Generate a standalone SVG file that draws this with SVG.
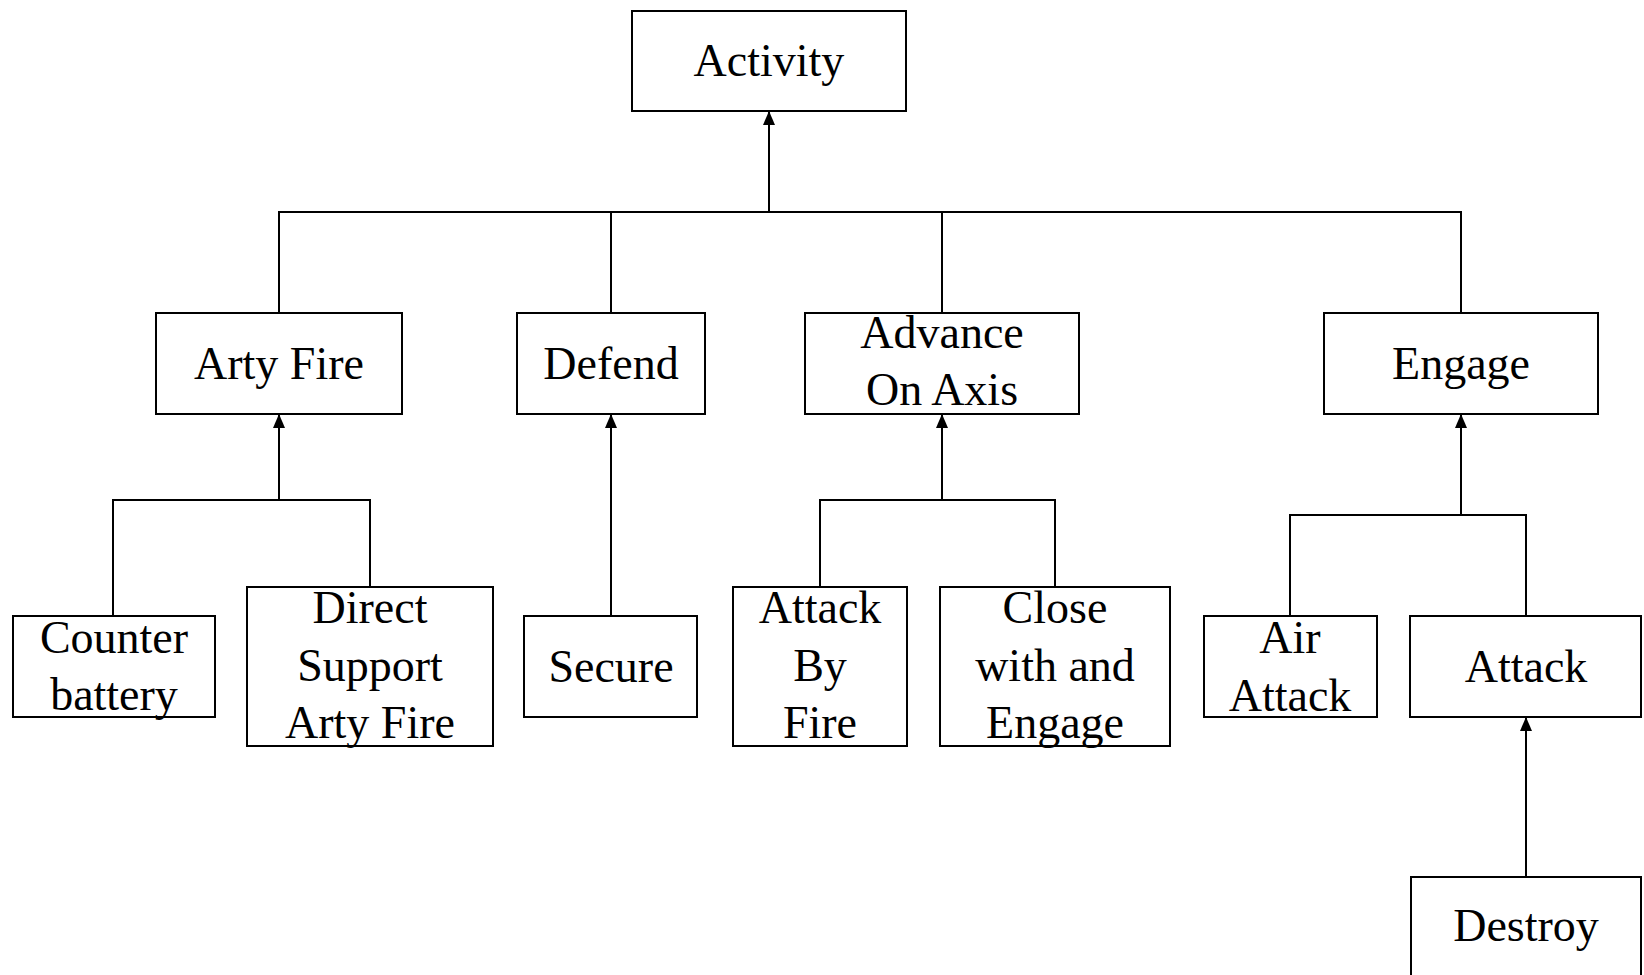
<svg xmlns="http://www.w3.org/2000/svg" width="1644" height="975" viewBox="0 0 1644 975">
<style>
.box{fill:#fff;stroke:#000;stroke-width:2}
.t{font-family:"Liberation Serif","Times New Roman",serif;font-size:46px;fill:#000;text-anchor:middle}
.c{fill:none;stroke:#000;stroke-width:2}
.a{marker-end:url(#ah)}
</style>
<defs>
<marker id="ah" viewBox="0 0 14 12" refX="14" refY="6" markerWidth="14" markerHeight="12" markerUnits="userSpaceOnUse" orient="auto">
<path d="M0,0 L14,6 L0,12 Z" fill="#000"/>
</marker>
</defs>
<rect width="1644" height="975" fill="#fff"/>
<g id="connectors">
<path class="c a" d="M769,212 V111"/>
<path class="c" d="M279,312 V212 H1461 V312 M611,212 V312 M942,212 V312"/>
<path class="c a" d="M279,500 V414"/>
<path class="c" d="M113,616 V500 H370 V587"/>
<path class="c a" d="M611,616 V414"/>
<path class="c a" d="M942,500 V414"/>
<path class="c" d="M820,587 V500 H1055 V587"/>
<path class="c a" d="M1461,515 V414"/>
<path class="c" d="M1290,616 V515 H1526 V616"/>
<path class="c a" d="M1526,877 V717"/>
</g>
<g id="activity"><rect class="box" x="632" y="11" width="274" height="100"/><text class="t" x="769" y="76">Activity</text></g>
<g id="arty-fire"><rect class="box" x="156" y="313" width="246" height="101"/><text class="t" x="279" y="379">Arty Fire</text></g>
<g id="defend"><rect class="box" x="517" y="313" width="188" height="101"/><text class="t" x="611" y="379">Defend</text></g>
<g id="advance-on-axis"><rect class="box" x="805" y="313" width="274" height="101"/><text class="t" x="942" y="348">Advance</text><text class="t" x="942" y="405">On Axis</text></g>
<g id="engage"><rect class="box" x="1324" y="313" width="274" height="101"/><text class="t" x="1461" y="379">Engage</text></g>
<g id="counter-battery"><rect class="box" x="13" y="616" width="202" height="101"/><text class="t" x="114" y="653">Counter</text><text class="t" x="114" y="710">battery</text></g>
<g id="direct-support"><rect class="box" x="247" y="587" width="246" height="159"/><text class="t" x="370" y="623">Direct</text><text class="t" x="370" y="681">Support</text><text class="t" x="370" y="738">Arty Fire</text></g>
<g id="secure"><rect class="box" x="524" y="616" width="173" height="101"/><text class="t" x="611" y="682">Secure</text></g>
<g id="attack-by-fire"><rect class="box" x="733" y="587" width="174" height="159"/><text class="t" x="820" y="623">Attack</text><text class="t" x="820" y="681">By</text><text class="t" x="820" y="738">Fire</text></g>
<g id="close-with-engage"><rect class="box" x="940" y="587" width="230" height="159"/><text class="t" x="1055" y="623">Close</text><text class="t" x="1055" y="681">with and</text><text class="t" x="1055" y="738">Engage</text></g>
<g id="air-attack"><rect class="box" x="1204" y="616" width="173" height="101"/><text class="t" x="1290" y="653">Air</text><text class="t" x="1290" y="711">Attack</text></g>
<g id="attack"><rect class="box" x="1410" y="616" width="231" height="101"/><text class="t" x="1526" y="682">Attack</text></g>
<g id="destroy"><rect class="box" x="1411" y="877" width="230" height="101"/><text class="t" x="1526" y="941">Destroy</text></g>
</svg>
